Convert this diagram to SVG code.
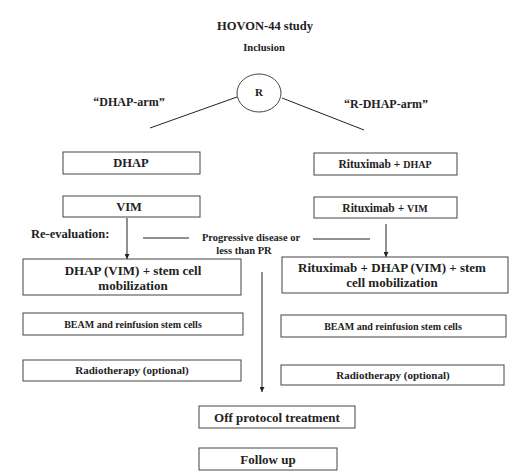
<svg xmlns="http://www.w3.org/2000/svg" width="512" height="475" viewBox="0 0 512 475">
<defs>
<marker id="ah" viewBox="0 0 10 10" refX="10" refY="5" markerWidth="5" markerHeight="5" orient="auto"><path d="M0,0 L10,5 L0,10 z" fill="#222"/></marker>
<style>
text{font-weight:bold;fill:#222;text-anchor:middle}
.box{fill:#fff;stroke:#444;stroke-width:1}
.ln{stroke:#222;stroke-width:1;fill:none}
</style>
</defs>
<rect width="512" height="475" fill="#fff"/>
<g font-family="'Liberation Serif', 'Times New Roman', serif">
<text x="265" y="30" font-size="12.5">HOVON-44 study</text>
<text x="264" y="51" font-size="10.5">Inclusion</text>
<g id="nodeR"><ellipse cx="259" cy="93" rx="22" ry="19" class="box"/><text x="259" y="96" font-size="11">R</text></g>
<text x="129" y="106" font-size="12">“DHAP-arm”</text>
<text x="386" y="108" font-size="12">“R-DHAP-arm”</text>
<g id="connectors">
<line x1="237" y1="97" x2="150" y2="128" class="ln"/>
<line x1="282" y1="98" x2="364" y2="130" class="ln"/>
<line x1="127" y1="218" x2="127" y2="259" class="ln" marker-end="url(#ah)"/>
<line x1="386" y1="224" x2="386" y2="257" class="ln" marker-end="url(#ah)"/>
<line x1="143" y1="238" x2="189" y2="238" class="ln"/>
<line x1="313" y1="239" x2="370" y2="239" class="ln"/>
<line x1="262" y1="272" x2="262" y2="392" class="ln" marker-end="url(#ah)"/>
</g>
<g id="dhap"><rect x="63" y="152" width="137" height="22" class="box"/><text x="131" y="167" font-size="12.5">DHAP</text></g>
<g id="rdhap"><rect x="314" y="153" width="143" height="22" class="box"/><text x="385" y="168"><tspan font-size="11.5">Rituximab + </tspan><tspan font-size="10">DHAP</tspan></text></g>
<g id="vim"><rect x="63" y="196" width="137" height="21" class="box"/><text x="129" y="211" font-size="12.5">VIM</text></g>
<g id="rvim"><rect x="314" y="197" width="143" height="21" class="box"/><text x="385" y="212"><tspan font-size="11.5">Rituximab + </tspan><tspan font-size="10">VIM</tspan></text></g>
<text x="31" y="238" font-size="12.5" style="text-anchor:start">Re-evaluation:</text>
<text x="251" y="241" font-size="10.5">Progressive disease or</text>
<text x="244" y="254" font-size="10.5">less than PR</text>
<g id="mob"><rect x="23" y="259" width="218" height="36" class="box"/><text x="133" y="275" font-size="13">DHAP (VIM)  + stem cell</text><text x="133" y="290" font-size="13">mobilization</text></g>
<g id="rmob"><rect x="282" y="257" width="226" height="36" class="box"/><text x="392" y="272" font-size="13">Rituximab + DHAP (VIM) + stem</text><text x="392" y="287" font-size="13">cell mobilization</text></g>
<g id="beam"><rect x="23" y="313" width="220" height="22" class="box"/><text x="133" y="328" font-size="10">BEAM and reinfusion stem cells</text></g>
<g id="rbeam"><rect x="281" y="315" width="225" height="22" class="box"/><text x="393" y="330" font-size="10">BEAM and reinfusion stem cells</text></g>
<g id="radio"><rect x="23" y="360" width="218" height="21" class="box"/><text x="132" y="374" font-size="11">Radiotherapy (optional)</text></g>
<g id="rradio"><rect x="281" y="365" width="223" height="20" class="box"/><text x="393" y="379" font-size="11">Radiotherapy (optional)</text></g>
<g id="off"><rect x="199" y="406" width="156" height="22" class="box"/><text x="277" y="421.5" font-size="13">Off protocol treatment</text></g>
<g id="follow"><rect x="199" y="448" width="138" height="22" class="box"/><text x="268" y="463.5" font-size="13">Follow up</text></g>
</g>
</svg>
